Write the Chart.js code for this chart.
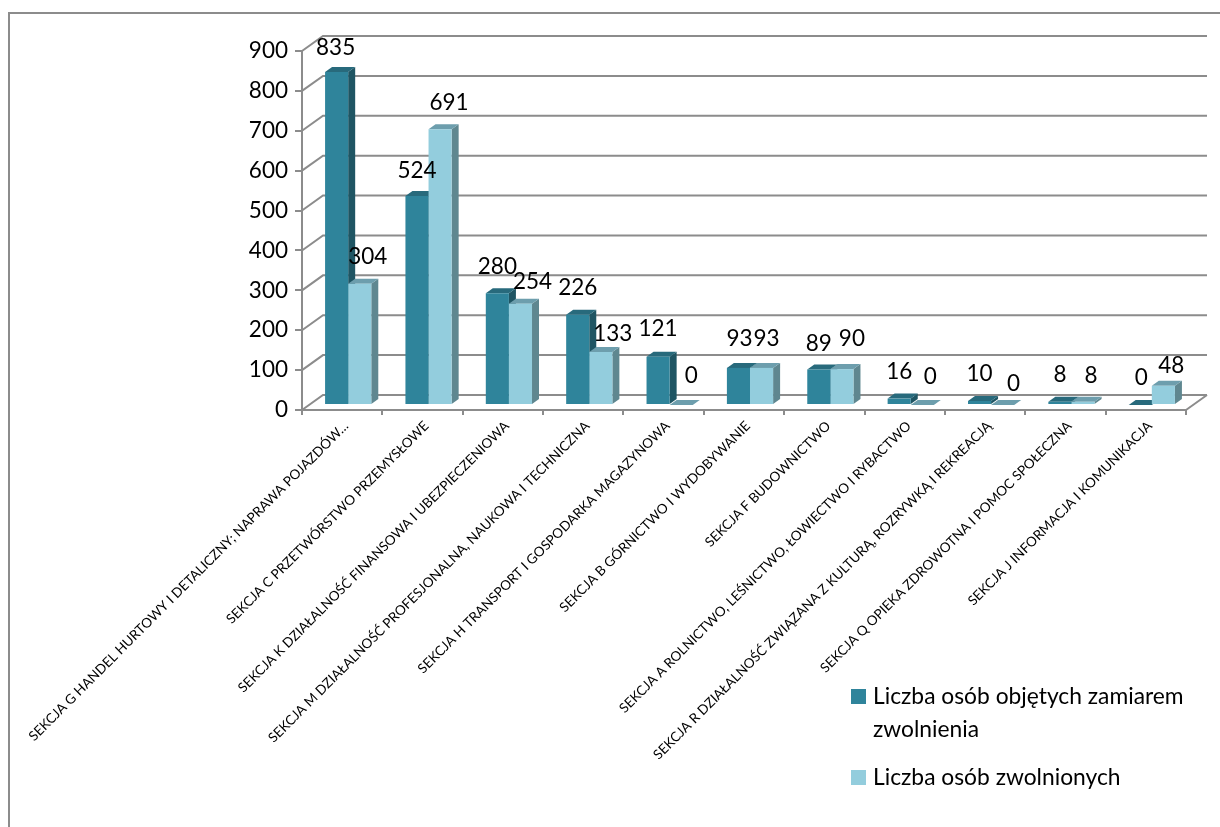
<!DOCTYPE html>
<html>
<head>
<meta charset="utf-8">
<script src="https://cdn.jsdelivr.net/npm/chart.js@4"></script>
<style>
html, body { margin: 0; padding: 0; background: #fff; overflow: hidden; }
#wrap { width: 1220px; height: 827px; }
</style>
</head>
<body>
<div id="wrap"><canvas id="chart" width="1220" height="827"></canvas></div>
<script>
const categories = [
    'SEKCJA G HANDEL HURTOWY I DETALICZNY; NAPRAWA POJAZDÓW…',
    'SEKCJA C PRZETWÓRSTWO PRZEMYSŁOWE',
    'SEKCJA K DZIAŁALNOŚĆ FINANSOWA I UBEZPIECZENIOWA',
    'SEKCJA M DZIAŁALNOŚĆ PROFESJONALNA, NAUKOWA I TECHNICZNA',
    'SEKCJA H TRANSPORT I GOSPODARKA MAGAZYNOWA',
    'SEKCJA B GÓRNICTWO I WYDOBYWANIE',
    'SEKCJA F BUDOWNICTWO',
    'SEKCJA A ROLNICTWO, LEŚNICTWO, ŁOWIECTWO I RYBACTWO',
    'SEKCJA R DZIAŁALNOŚĆ ZWIĄZANA Z KULTURĄ, ROZRYWKĄ I REKREACJĄ',
    'SEKCJA Q OPIEKA ZDROWOTNA I POMOC SPOŁECZNA',
    'SEKCJA J INFORMACJA I KOMUNIKACJA'
];
const zamiar = [835, 524, 280, 226, 121, 93, 89, 16, 10, 8, 0];
const zwolnieni = [304, 691, 254, 133, 0, 93, 90, 0, 0, 8, 48];
const legendZamiar = ['Liczba osób objętych zamiarem', 'zwolnienia'];
const legendZwolnieni = ['Liczba osób zwolnionych'];

const FONT = "Lato, 'Open Sans', sans-serif";
const GRID = '#8c8c8c';
const DARK = { front: '#2f849b', side: '#1f5563', top: '#286a7c' };
const LIGHT = { front: '#93cddd', side: '#5f8790', top: '#6d9ead' };

// przesunięcia pseudo-3D
const WALL_X = 21, WALL_Y = 15;
const BAR_X = 6, BAR_Y = -5;
const DEPTH_X = 7, DEPTH_Y = 5;

// etykiety w oryginale są ręcznie poprzesuwane
const NUDGE = [
    [[-1, 1], [0, 0], [0, -2], [0, -2], [0, -3], [1, -4], [0, -1], [0, -2], [0, -2], [0, -2], [1, -2]],
    [[8, -2], [9, -2], [12, 3], [12, 7], [10, -4], [5, -4], [10, -5], [8, -3], [11, 4], [8, -1], [8, 5]]
];

function poly(ctx, pts, color) {
    ctx.fillStyle = color;
    ctx.beginPath();
    pts.forEach((p, i) => i ? ctx.lineTo(p[0], p[1]) : ctx.moveTo(p[0], p[1]));
    ctx.closePath();
    ctx.fill();
}

// ściana tylna i podłoga za słupkami
const wallPlugin = {
    id: 'wall',
    beforeDraw(chart) {
        const { ctx, chartArea: a, scales: { y } } = chart;
        ctx.save();
        ctx.fillStyle = '#fff';
        ctx.fillRect(0, 0, chart.width, chart.height);
        ctx.strokeStyle = GRID;
        ctx.lineWidth = 2;
        ctx.beginPath();
        ctx.moveTo(9, 827);
        ctx.lineTo(9, 13);
        ctx.lineTo(1220, 13);
        ctx.stroke();
        y.ticks.forEach(t => {
            const py = y.getPixelForValue(t.value);
            ctx.beginPath();
            ctx.moveTo(a.left, py);
            ctx.lineTo(a.left + WALL_X, py - WALL_Y);
            ctx.lineTo(a.right + WALL_X, py - WALL_Y);
            ctx.stroke();
        });
        ctx.beginPath();
        ctx.moveTo(a.right, a.bottom);
        ctx.lineTo(a.right + WALL_X, a.bottom - WALL_Y);
        ctx.stroke();
        ctx.restore();
    }
};

// boki i wierzchy słupków, przód rysuje Chart.js
const depthPlugin = {
    id: 'depth',
    beforeDatasetsDraw(chart) {
        const { ctx } = chart;
        ctx.save();
        ctx.translate(BAR_X, BAR_Y);
        categories.forEach((c, i) => {
            [DARK, LIGHT].forEach((col, d) => {
                const el = chart.getDatasetMeta(d).data[i];
                const w = el.width / 2;
                const l = el.x - w, r = el.x + w, t = el.y, b = el.base;
                poly(ctx, [[r, t], [r + DEPTH_X, t - DEPTH_Y], [r + DEPTH_X, b - DEPTH_Y], [r, b]], col.side);
                poly(ctx, [[l, t], [l + DEPTH_X, t - DEPTH_Y], [r + DEPTH_X, t - DEPTH_Y], [r, t]], col.top);
            });
        });
    },
    afterDatasetsDraw(chart) {
        chart.ctx.restore();
    }
};

// etykiety wartości i legenda
const textPlugin = {
    id: 'texts',
    afterDraw(chart) {
        const { ctx } = chart;
        ctx.save();
        ctx.fillStyle = '#000';
        ctx.font = '22.5px ' + FONT;
        ctx.textAlign = 'center';
        ctx.textBaseline = 'middle';
        chart.data.datasets.forEach((ds, d) => {
            chart.getDatasetMeta(d).data.forEach((el, i) => {
                const [dx, dy] = NUDGE[d][i];
                ctx.fillText(ds.data[i], el.x + BAR_X + dx, el.y + BAR_Y - 25 + dy);
            });
        });
        ctx.font = '22.8px ' + FONT;
        ctx.textAlign = 'left';
        ctx.textBaseline = 'alphabetic';
        ctx.fillStyle = DARK.front;
        ctx.fillRect(851, 689, 15, 15);
        ctx.fillStyle = LIGHT.front;
        ctx.fillRect(851, 770, 15, 15);
        ctx.fillStyle = '#000';
        ctx.fillText(legendZamiar[0], 873, 704);
        ctx.fillText(legendZamiar[1], 873, 737);
        ctx.fillText(legendZwolnieni[0], 873, 785);
        ctx.restore();
    }
};

new Chart(document.getElementById('chart'), {
    type: 'bar',
    data: {
        labels: categories,
        datasets: [
            { label: legendZamiar.join(' '), data: zamiar, backgroundColor: DARK.front, borderWidth: 0 },
            { label: legendZwolnieni[0], data: zwolnieni, backgroundColor: LIGHT.front, borderWidth: 0 }
        ]
    },
    options: {
        responsive: false,
        animation: false,
        devicePixelRatio: 1,
        layout: { padding: { top: 51, right: 34, left: 0, bottom: 0 } },
        datasets: { bar: { categoryPercentage: 0.575, barPercentage: 1 } },
        plugins: { legend: { display: false }, tooltip: { enabled: false } },
        scales: {
            x: {
                afterFit(scale) { scale.height = 417; },
                border: { color: GRID, width: 2 },
                grid: { color: GRID, lineWidth: 2, drawOnChartArea: false, tickLength: 5 },
                ticks: {
                    autoSkip: false,
                    minRotation: 45,
                    maxRotation: 45,
                    labelOffset: 4,
                    padding: 3,
                    color: '#000',
                    font: { family: FONT, size: 13.5 }
                }
            },
            y: {
                min: 0,
                max: 900,
                afterFit(scale) { scale.width = 302; },
                border: { color: GRID, width: 2 },
                grid: { color: GRID, lineWidth: 2, drawOnChartArea: false, tickLength: 7 },
                ticks: {
                    stepSize: 100,
                    padding: 7,
                    color: '#000',
                    font: { family: FONT, size: 22.5 }
                }
            }
        }
    },
    plugins: [wallPlugin, depthPlugin, textPlugin]
});
</script>
</body>
</html>
